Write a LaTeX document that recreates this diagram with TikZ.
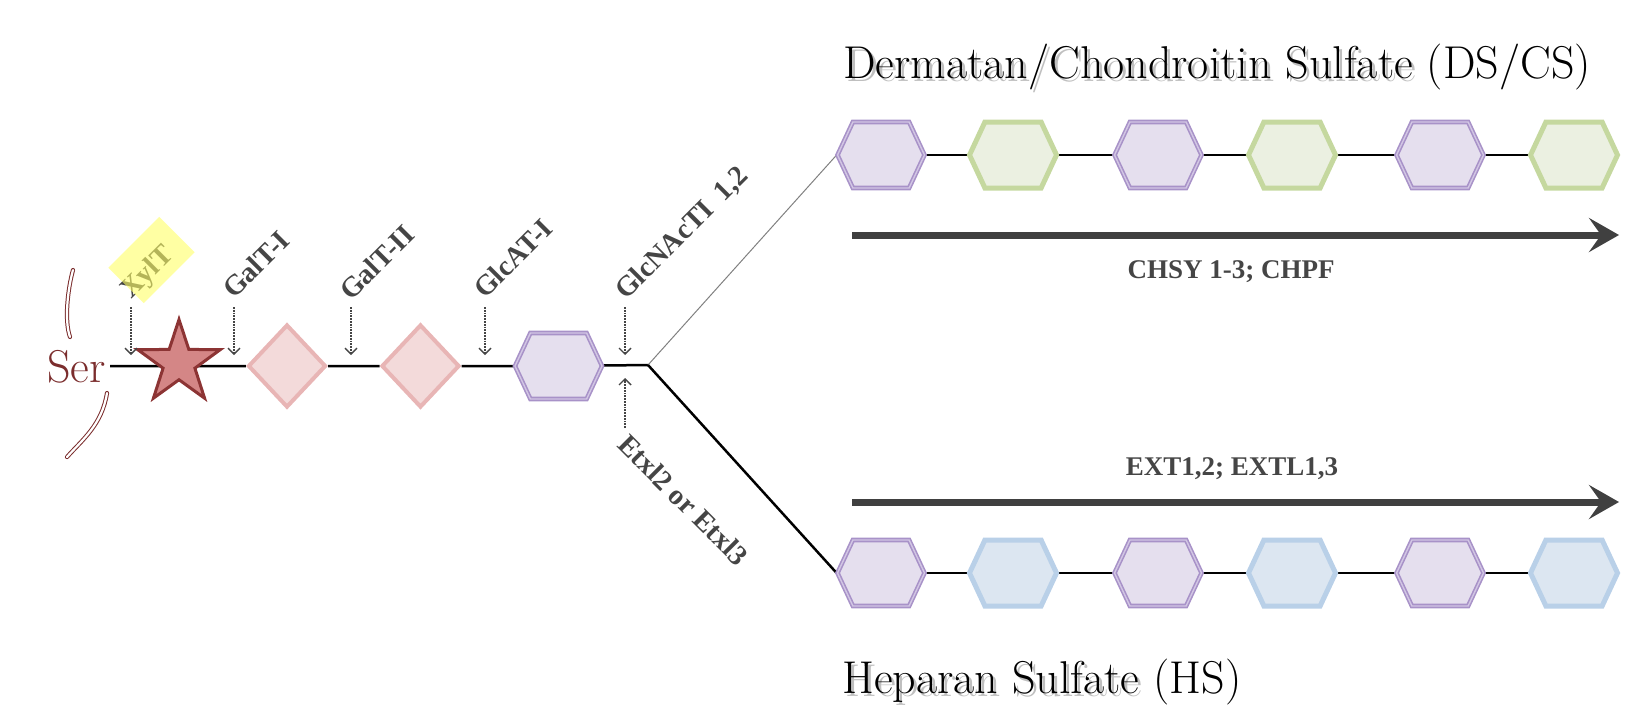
\documentclass[tikz,border=0pt]{standalone}
\usepackage{fontspec}
\newfontfamily\labfont{Liberation Serif}
\usetikzlibrary{shapes.geometric,shapes.symbols,arrows.meta}
\pgfdeclarelayer{bg}
\pgfsetlayers{bg,main}
\definecolor{serred}{HTML}{7B2D2D}
\definecolor{starfill}{HTML}{D48686}
\definecolor{stardraw}{HTML}{8C3434}
\definecolor{galfill}{HTML}{F3DADA}
\definecolor{galdraw}{HTML}{E8B5B5}
\definecolor{purfill}{HTML}{E5DFEE}
\definecolor{purdraw}{HTML}{A892C8}
\definecolor{purinner}{HTML}{D2C6E4}
\definecolor{grnfill}{HTML}{EBF0E1}
\definecolor{grndraw}{HTML}{C5D89F}
\definecolor{blufill}{HTML}{DCE6F1}
\definecolor{bludraw}{HTML}{B9D0E8}
\definecolor{labgray}{HTML}{454545}
\definecolor{arrgray}{HTML}{404040}
\definecolor{xylyellow}{HTML}{FFFF66}
\begin{document}
\begin{tikzpicture}[x=1pt,y=-1pt,
  hexa/.style={signal, signal to=west and east, signal pointer angle=130,
    minimum width=87pt, minimum height=66pt, inner sep=0pt, line width=5pt},
  purhex/.style={hexa, fill=purfill, draw=purdraw, line width=1.6pt,
    double=purinner, double distance=1.4pt},
  grnhex/.style={hexa, fill=grnfill, draw=grndraw},
  bluhex/.style={hexa, fill=blufill, draw=bludraw},
  galdia/.style={diamond, minimum width=78pt, minimum height=83pt, inner sep=0pt,
    fill=galfill, draw=galdraw, line width=4pt},
  bond/.style={line width=2.5pt, black},
  enzyme/.style={font=\labfont\bfseries\fontsize{27}{27}\selectfont, text=labgray, inner sep=0pt},
  rotenzyme/.style={enzyme, font=\labfont\bfseries\fontsize{28.5}{28.5}\selectfont},
  dotarrow/.style={densely dotted, line width=1.8pt, draw=labgray,
    -{Straight Barb[length=6pt,width=12pt,line width=1.4pt]}},
  synth/.style={line width=7pt, draw=arrgray, -{Stealth[length=30pt,width=34pt,inset=12pt]}},
  ttl/.style={font=\fontsize{46}{46}\selectfont, inner sep=0pt, anchor=base west},
  serline/.style={draw=serred, line width=1pt, double=white, double distance=2.2pt, line cap=round},
]
\useasboundingbox (0,0) rectangle (1627,710);

% ---- linkage region: Ser - Xyl - Gal - Gal - GlcA ----
\node[font=\fontsize{46}{46}\selectfont, text=serred, anchor=base east, inner sep=0pt] (ser) at (106,382) {Ser};
\coordinate (s0) at (110,366);
\node[star, star points=5, star point ratio=2.6, minimum size=87pt, inner sep=0pt,
      fill=starfill, draw=stardraw, line width=3pt] (xyl) at (179,363) {};
\node[galdia] (gal1) at (287,366) {};
\node[galdia] (gal2) at (420.5,366) {};
\node[purhex] (glca) at (558.5,366) {};
\coordinate (br) at (648,365);

% protein backbone strokes around Ser
\draw[serline] (73,270) .. controls (68,288) and (64,320) .. (70,337);
\draw[serline] (107,393) .. controls (102,425) and (82,440) .. (67,457);

% ---- DS/CS chain ----
\node[purhex] (t1) at (881,155) {};
\node[grnhex] (t2) at (1013,155) {};
\node[purhex] (t3) at (1158,155) {};
\node[grnhex] (t4) at (1292,155) {};
\node[purhex] (t5) at (1440,155) {};
\node[grnhex] (t6) at (1574,155) {};

% ---- HS chain ----
\node[purhex] (b1) at (881,573) {};
\node[bluhex] (b2) at (1013,573) {};
\node[purhex] (b3) at (1158,573) {};
\node[bluhex] (b4) at (1292,573) {};
\node[purhex] (b5) at (1440,573) {};
\node[bluhex] (b6) at (1574,573) {};

\begin{pgfonlayer}{bg}
  \draw[bond] (s0) -- (gal1) -- (gal2) -- (glca) -- (br);
  \draw[line width=1pt, draw=gray] (br) -- (t1.west);
  \draw[bond] (br) -- (b1.west);
  \draw[bond] (t1) -- (t2) -- (t3) -- (t4) -- (t5) -- (t6);
  \draw[bond] (b1) -- (b2) -- (b3) -- (b4) -- (b5) -- (b6);
\end{pgfonlayer}

% ---- enzymes ----
\node[rotenzyme, rotate=45, anchor=base west] (lxyl) at (131,300) {XylT};
\node[fill=xylyellow, opacity=.6, rotate=45, minimum width=72pt, minimum height=50pt,
      inner sep=0pt] (xylbox) at (151.5,260) {};
\node[rotenzyme, rotate=45, anchor=base west] (lgal1) at (234,300) {GalT-I};
\node[rotenzyme, rotate=45, anchor=base west] (lgal2) at (351,302) {GalT-II};
\node[rotenzyme, rotate=45, anchor=base west] (lglca) at (485,300) {GlcAT-I};
\node[rotenzyme, rotate=45, anchor=base west] (lglcn) at (626,301) {GlcNAcTI\hspace{0.45em}1,2};
\node[rotenzyme, rotate=-45, anchor=north west] (letx) at (630,432) {Etxl2 or Etxl3};

\draw[dotarrow] ([yshift=-7pt]lxyl.base west) -- ++(0,48);
\draw[dotarrow] ([yshift=-7pt]lgal1.base west) -- ++(0,48);
\draw[dotarrow] ([yshift=-5pt]lgal2.base west) -- ++(0,48);
\draw[dotarrow] ([yshift=-7pt]lglca.base west) -- ++(0,48);
\draw[dotarrow] ([xshift=-1pt,yshift=-6pt]lglcn.base west) -- ++(0,48);
\coordinate (etxa) at (625,428);
\draw[dotarrow] (etxa) -- ++(0,-50);

% ---- chain polymerisation ----
\coordinate (cs0) at (852,235);
\coordinate (cs1) at (1619,235);
\draw[synth] (cs0) -- (cs1);
\node[enzyme] (lchsy) at (1231,272) {CHSY 1-3; CHPF};
\coordinate (hs0) at (852,502);
\coordinate (hs1) at (1619,502);
\draw[synth] (hs0) -- (hs1);
\node[enzyme] (lext) at (1232,469) {EXT1,2; EXTL1,3};

% ---- titles, with a soft drop shadow under the names ----
\node[ttl, text=black, opacity=.25] (dsshadow) at (846,81.5) {Dermatan/Chondroitin Sulfate};
\node[ttl] (dstitle) at (843,78) {Dermatan/Chondroitin Sulfate (DS/CS)};

\node[ttl, text=black, opacity=.25] (hsshadow) at (845,696.5) {Heparan Sulfate};
\node[ttl] (hstitle) at (842,693) {Heparan Sulfate (HS)};
\end{tikzpicture}
\end{document}
